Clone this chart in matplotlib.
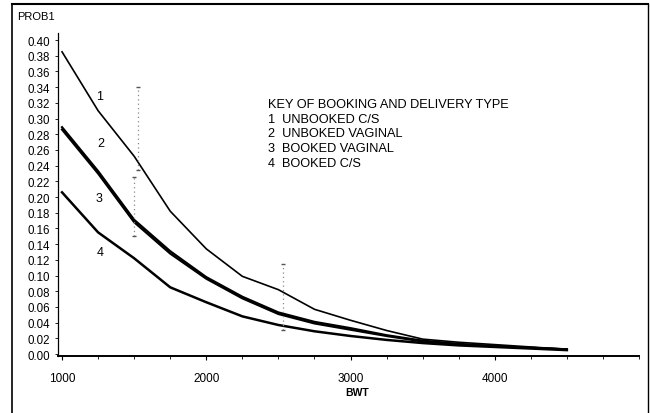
import matplotlib
matplotlib.use("Agg")
import matplotlib.pyplot as plt
from matplotlib.lines import Line2D
from matplotlib.ticker import MultipleLocator

plt.rcParams['font.family'] = ['Liberation Sans', 'DejaVu Sans']

bwt = [1000, 1250, 1500, 1750, 2000, 2250, 2500, 2750, 3000, 3250, 3500, 3750, 4000, 4250, 4500]
unbooked_cs = [0.385, 0.310, 0.252, 0.182, 0.134, 0.099, 0.082, 0.057, 0.043, 0.030, 0.019, 0.015, 0.012, 0.009, 0.006]
unbooked_vag = [0.289, 0.233, 0.171, 0.131, 0.098, 0.073, 0.053, 0.041, 0.033, 0.024, 0.017, 0.013, 0.010, 0.008, 0.006]
booked_vag = [0.286, 0.230, 0.168, 0.128, 0.096, 0.071, 0.051, 0.039, 0.031, 0.023, 0.016, 0.012, 0.010, 0.008, 0.006]
booked_cs = [0.206, 0.155, 0.122, 0.085, 0.066, 0.048, 0.037, 0.029, 0.023, 0.018, 0.014, 0.011, 0.009, 0.007, 0.005]

# dotted interval marks
ci_x = [1530, 1500, 2530]
ci_lo = [0.235, 0.150, 0.030]
ci_hi = [0.340, 0.225, 0.115]

curve_ids = ["1", "2", "3", "4"]
curve_label_x = [1257, 1270, 1257, 1265]
curve_label_y = [0.329, 0.269, 0.199, 0.130]

key_title = "KEY OF BOOKING AND DELIVERY TYPE"
key_lines = ["1  UNBOOKED C/S", "2  UNBOKED VAGINAL", "3  BOOKED VAGINAL", "4  BOOKED C/S"]

W, H = 650, 414
fig = plt.figure(figsize=(6.5, 4.14), dpi=100)
ax = fig.add_axes([58 / W, 1 - 357 / H, (639 - 58) / W, (357 - 34) / H])

ax.plot(bwt, unbooked_cs, color='black', lw=1.2)
ax.plot(bwt, unbooked_vag, color='black', lw=1.6)
ax.plot(bwt, booked_vag, color='black', lw=1.6)
ax.plot(bwt, booked_cs, color='black', lw=1.8)

ax.vlines(ci_x, ci_lo, ci_hi, colors='#8a8a8a', linestyles=(0, (1, 2.5)), lw=0.9)
ax.plot(ci_x, ci_hi, ls='none', marker='_', color='#555555', ms=3)
ax.plot(ci_x, ci_lo, ls='none', marker='_', color='#555555', ms=3)

for t, xx, yy in zip(curve_ids, curve_label_x, curve_label_y):
    ax.text(xx, yy, t, fontsize=9, ha='center', va='center')

ax.text(0.362, 0.780, key_title, transform=ax.transAxes, fontsize=9.2, va='center')
for i, s in enumerate(key_lines):
    ax.text(0.362, 0.734 - i * 0.045, s, transform=ax.transAxes, fontsize=9.2, va='center')

ax.set_xlim(972, 5000)
ax.set_ylim(-0.0025, 0.409)
ax.set_yticks([i * 0.02 for i in range(21)])
ax.set_yticklabels([f"{i*0.02:.2f}" for i in range(21)], fontsize=8.3)
ax.set_xticks([1000, 2000, 3000, 4000])
ax.set_xticklabels(["1000", "2000", "3000", "4000"], fontsize=8.5)
ax.xaxis.set_minor_locator(MultipleLocator(250))
ax.tick_params(axis='x', which='major', length=3, width=0.8, pad=8.5)
ax.tick_params(axis='x', which='minor', length=2, width=0.6)
ax.tick_params(axis='y', length=2, width=0.6, pad=3.5)
ax.spines['top'].set_visible(False)
ax.spines['right'].set_visible(False)
ax.spines['left'].set_linewidth(0.9)
ax.spines['bottom'].set_linewidth(1.4)

fig.text(357 / W, 1 - 393 / H, "BWT", fontsize=7.5, fontweight='bold', ha='center', va='center')
fig.text(17 / W, 1 - 17 / H, "PROB1", fontsize=8, ha='left', va='center')

# figure frame
fig.add_artist(Line2D([12 / W, 12 / W], [0, 1 - 5 / H], transform=fig.transFigure, color='black', lw=1.2))
fig.add_artist(Line2D([12 / W, 648 / W], [1 - 5 / H, 1 - 5 / H], transform=fig.transFigure, color='black', lw=1.5))
fig.add_artist(Line2D([648 / W, 648 / W], [0, 1 - 5 / H], transform=fig.transFigure, color='black', lw=1.0))

fig.savefig("out.png", dpi=100)
